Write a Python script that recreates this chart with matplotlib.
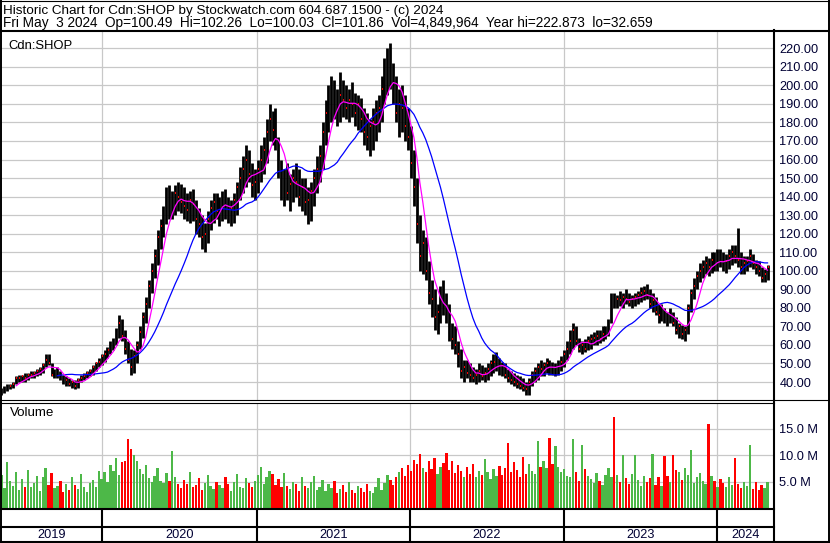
import numpy as np
import pandas as pd
import matplotlib
matplotlib.use("Agg")
import matplotlib.pyplot as plt
from matplotlib.ticker import FixedLocator, FuncFormatter

plt.rcParams['font.family'] = ['Liberation Sans', 'DejaVu Sans']

# ---------------- data (weekly bars, Cdn:SHOP) ----------------
week_start = "2019-05-06"
n_weeks = 261

low = [33, 34, 35, 36, 37, 39, 40, 40, 40, 41, 42, 42, 43, 44, 45, 48, 49, 43, 42, 42,
       41, 39, 38, 38, 37, 36, 37, 40, 41, 42, 43, 44, 46, 48, 49, 51, 53, 55, 57, 60,
       64, 62, 55, 50, 44, 45, 50, 58, 64, 72, 80, 88, 96, 103, 112, 118, 125, 128, 128, 130,
       132, 131, 128, 127, 126, 127, 120, 118, 112, 110, 115, 122, 126, 128, 124, 127, 128, 126, 124, 126,
       130, 138, 142, 145, 148, 140, 138, 142, 148, 152, 158, 170, 168, 165, 150, 138, 135, 138, 132, 137,
       140, 135, 132, 130, 125, 127, 135, 142, 148, 155, 168, 175, 180, 182, 178, 180, 183, 182, 180, 183,
       178, 176, 175, 168, 165, 162, 165, 170, 175, 180, 190, 195, 198, 190, 180, 172, 175, 170, 165, 150,
       135, 115, 100, 98, 95, 82, 75, 68, 66, 72, 76, 72, 62, 58, 55, 48, 42, 40, 42, 40,
       40, 39, 40, 41, 40, 41, 43, 45, 46, 44, 43, 42, 40, 39, 38, 37, 36, 35, 33, 33,
       38, 40, 41, 43, 43, 45, 44, 44, 43, 44, 46, 48, 52, 55, 58, 60, 56, 55, 56, 57,
       58, 60, 60, 61, 62, 63, 65, 72, 80, 80, 81, 80, 82, 81, 80, 81, 82, 83, 84, 85,
       80, 78, 76, 72, 73, 72, 70, 72, 70, 66, 64, 63, 62, 66, 78, 85, 90, 94, 96, 98,
       97, 99, 100, 100, 102, 100, 99, 101, 103, 104, 102, 98, 98, 100, 102, 101, 98, 97, 94, 94,
       95]
high = [37, 38, 39, 39, 40, 43, 44, 44, 45, 45, 46, 46, 47, 48, 50, 55, 55, 50, 47, 48,
        46, 44, 43, 42, 41, 41, 42, 44, 45, 46, 47, 49, 51, 53, 55, 57, 59, 62, 64, 69,
        76, 74, 68, 62, 58, 57, 62, 70, 78, 86, 95, 104, 112, 122, 128, 135, 145, 146, 143, 146,
        148, 147, 145, 142, 143, 144, 138, 134, 130, 126, 132, 138, 142, 142, 140, 143, 144, 140, 138, 142,
        148, 156, 162, 168, 165, 158, 155, 160, 168, 172, 182, 190, 186, 188, 172, 160, 155, 158, 152, 155,
        158, 155, 150, 150, 145, 148, 155, 162, 168, 180, 192, 200, 205, 203, 198, 207, 203, 200, 198, 202,
        196, 195, 193, 188, 185, 182, 188, 192, 195, 205, 215, 220, 223, 212, 205, 198, 200, 195, 188, 178,
        165, 150, 130, 122, 118, 105, 95, 90, 82, 92, 95, 88, 82, 72, 70, 62, 58, 52, 52, 50,
        48, 47, 50, 49, 48, 50, 52, 55, 56, 53, 51, 50, 47, 46, 45, 44, 43, 42, 40, 42,
        46, 48, 50, 52, 51, 53, 52, 51, 50, 52, 54, 57, 62, 68, 72, 70, 64, 62, 63, 65,
        66, 67, 68, 68, 70, 70, 74, 88, 88, 87, 89, 88, 90, 88, 87, 88, 89, 91, 92, 93,
        90, 88, 86, 82, 82, 80, 78, 80, 78, 75, 72, 71, 70, 82, 90, 96, 100, 104, 106, 108,
        107, 110, 110, 112, 112, 110, 109, 112, 114, 114, 123, 110, 108, 108, 112, 109, 106, 105, 102, 101,
        103]
close = [35, 37, 37, 38, 39, 42, 42, 43, 42, 44, 44, 45, 46, 47, 49, 52, 50, 44, 45, 46,
         42, 40, 41, 39, 40, 38, 41, 42, 43, 45, 46, 48, 50, 51, 54, 55, 57, 60, 62, 67,
         72, 65, 58, 52, 48, 54, 60, 67, 75, 82, 92, 100, 108, 118, 124, 130, 140, 135, 138, 142,
         140, 137, 135, 133, 138, 136, 128, 125, 118, 120, 128, 134, 137, 132, 136, 139, 135, 130, 134, 138,
         145, 150, 155, 160, 152, 146, 148, 155, 160, 165, 175, 182, 176, 170, 155, 145, 150, 142, 147, 150,
         148, 140, 145, 137, 138, 143, 150, 155, 162, 175, 185, 190, 195, 190, 185, 195, 192, 188, 192, 190,
         185, 190, 182, 175, 172, 178, 180, 185, 188, 198, 208, 212, 205, 198, 185, 190, 188, 178, 172, 158,
         145, 125, 108, 115, 100, 88, 85, 75, 78, 88, 82, 78, 66, 63, 60, 55, 46, 48, 45, 44,
         42, 44, 46, 43, 45, 47, 50, 51, 52, 47, 46, 44, 42, 41, 40, 39, 38, 37, 36, 40,
         44, 46, 48, 47, 49, 50, 48, 46, 47, 50, 51, 55, 58, 62, 68, 62, 58, 60, 58, 62,
         63, 64, 65, 63, 66, 67, 70, 84, 83, 85, 84, 86, 85, 83, 85, 86, 87, 88, 89, 87,
         82, 84, 78, 76, 78, 75, 74, 77, 72, 68, 70, 66, 68, 80, 88, 92, 97, 100, 102, 104,
         102, 106, 104, 108, 106, 103, 105, 108, 110, 108, 106, 102, 104, 105, 108, 104, 102, 100, 96, 98,
         101.86]
volume_m = [6.2, 3.8, 8.8, 5.1, 4.2, 6.8, 3.5, 5.5, 4.0, 7.2,
            3.9, 4.8, 6.0, 3.2, 5.8, 7.5, 4.4, 6.6, 3.7, 4.1,
            5.2, 3.0, 4.6, 3.4, 5.9, 4.3, 3.6, 6.4, 4.0, 3.1,
            4.8, 5.3, 3.9, 7.0, 5.5, 6.8, 4.9, 8.2, 7.0, 9.5,
            6.3, 8.8, 9.0, 13.0, 11.2, 10.1, 9.0, 7.4, 6.5, 8.1,
            5.6, 4.9, 6.0, 7.5, 5.2, 4.8, 6.7, 5.1, 10.8, 5.9,
            4.5, 3.8, 5.3, 4.6, 6.9, 3.9, 4.4, 5.7, 3.5, 4.8,
            6.2, 4.1, 3.6, 5.0, 4.3, 3.7, 5.9, 4.5, 3.3, 4.9,
            6.4, 4.0, 3.8, 5.6, 4.7, 3.9, 5.2, 6.3, 7.8, 4.6,
            5.9, 7.1, 6.5, 4.4, 5.5, 3.9, 6.6, 4.1, 3.6, 5.0,
            4.5, 3.3, 5.8, 4.2, 3.7, 4.9, 6.1, 3.5, 4.0, 5.4,
            3.2, 4.6, 3.8, 5.1, 2.9, 3.6, 4.3, 3.1, 5.0, 3.4,
            2.8, 4.1, 3.7, 3.0, 4.5, 3.3, 2.9, 4.0, 5.6, 3.5,
            4.8, 6.2, 5.3, 4.4, 5.9, 6.8, 7.5, 6.0, 8.2, 7.1,
            9.1, 8.4, 10.2, 7.6, 6.8, 8.9, 7.3, 9.5, 6.5, 7.8,
            8.6, 10.4, 7.2, 9.0, 6.6, 8.1, 7.0, 5.8, 7.7, 6.4,
            8.3, 5.9, 7.1, 6.2, 9.3, 6.8, 5.5, 7.4, 6.0, 8.0,
            6.3, 7.6, 12.4, 6.9, 8.8, 7.2, 5.9, 9.7, 6.5, 8.4,
            7.0, 6.4, 12.7, 7.8, 9.0, 7.5, 13.2, 8.3, 11.7, 7.7,
            6.8, 7.4, 6.1, 5.8, 13.0, 6.9, 5.2, 11.9, 7.3, 6.0,
            5.5, 4.8, 6.6, 5.1, 4.4, 6.2, 7.5, 5.9, 17.2, 6.3,
            5.0, 10.1, 5.7, 4.6, 6.4, 10.1, 5.3, 4.1, 6.0, 4.9,
            5.6, 10.3, 4.4, 5.8, 4.2, 9.9, 6.1, 5.0, 10.1, 7.2,
            6.8, 5.4, 7.5, 6.2, 11.0, 4.8, 5.9, 6.6, 5.1, 4.5,
            15.9, 6.0, 5.2, 4.0, 5.5, 4.7, 3.9, 5.8, 4.3, 9.4,
            4.6, 3.8, 5.0, 4.2, 11.9, 3.6, 4.9, 3.4, 4.4, 3.7,
            4.85]

price_ticks = list(range(40, 230, 10))
volume_ticks = [5, 10, 15]
years = [2019, 2020, 2021, 2022, 2023, 2024]
ma_fast, ma_slow = 6, 20

header1 = "Historic Chart for Cdn:SHOP by Stockwatch.com 604.687.1500 - (c) 2024"
header2 = ("Fri May  3 2024  Op=100.49  Hi=102.26  Lo=100.03  Cl=101.86  "
           "Vol=4,849,964  Year hi=222.873  lo=32.659")

# ---------------- figure ----------------
W, H = 830, 543
fig = plt.figure(figsize=(W / 100, H / 100), dpi=100)


def rect(x0, y0, x1, y1):
    return [x0 / W, 1 - y1 / H, (x1 - x0) / W, (y1 - y0) / H]


dates = pd.date_range(week_start, periods=n_weeks, freq="7D")
x_left, x_right = pd.Timestamp("2019-05-05"), pd.Timestamp("2024-05-12")
year_bounds = [pd.Timestamp(f"{y}-01-01") for y in years[1:]]

ax = fig.add_axes(rect(1, 32, 773, 400))
axv = fig.add_axes(rect(1, 403, 773, 508), sharex=ax)
axy = fig.add_axes(rect(1, 510, 773, 541), sharex=ax)

grid_c = "#C8C8C8"
lab_c = "#000033"
LBL = 9.2
for a in (ax, axv, axy):
    for s in a.spines.values():
        s.set_visible(False)
    a.set_facecolor("white")

# price bars
cl = pd.Series(close, dtype=float)
ax.vlines(dates, low, high, color="black", lw=2.0, zorder=3)
ax.hlines(close, dates + pd.Timedelta(days=0.5), dates + pd.Timedelta(days=2.4),
          color="#FF0000", lw=1.4, zorder=4)
ax.plot(dates, cl.rolling(ma_slow).mean(), color="#0000FF", lw=0.9, zorder=5)
ax.plot(dates, cl.rolling(ma_fast).mean(), color="#FF00FF", lw=0.9, zorder=5)
ax.set_xlim(x_left, x_right)
ax.set_ylim(40 - 18 / 1.854, 220 + 16.3 / 1.854)
ax.yaxis.set_major_locator(FixedLocator(price_ticks))
ax.yaxis.set_major_formatter(FuncFormatter(lambda v, p: f"{v:.2f}"))
ax.set_xticks(year_bounds)
ax.grid(True, color=grid_c, lw=0.9, zorder=0)
ax.yaxis.tick_right()
ax.tick_params(axis="y", length=0, pad=4.5, labelsize=LBL, labelcolor=lab_c)
ax.tick_params(axis="x", length=0, labelbottom=False)
ax.text(0.009, 0.978, "Cdn:SHOP", transform=ax.transAxes, fontsize=9.4,
        color="black", va="top", ha="left")

# volume
vol_colors = ["#4DB848" if i == 0 or close[i] >= close[i - 1] else "#FF0000"
              for i in range(n_weeks)]
axv.bar(dates, volume_m, width=5.5, color=vol_colors, zorder=3, linewidth=0)
axv.set_ylim(0, (507.5 - 403) / 5.25)
axv.yaxis.set_major_locator(FixedLocator(volume_ticks))
axv.yaxis.set_major_formatter(FuncFormatter(lambda v, p: f"{v:.1f} M"))
axv.grid(True, color=grid_c, lw=0.9, zorder=0)
axv.yaxis.tick_right()
axv.tick_params(axis="y", length=0, pad=4.5, labelsize=LBL, labelcolor=lab_c)
axv.tick_params(axis="x", length=0, labelbottom=False)
axv.text(0.011, 0.965, "Volume", transform=axv.transAxes, fontsize=9.6,
         color="black", va="top", ha="left")

# year strip
axy.set_ylim(0, 1)
axy.set_yticks([])
axy.tick_params(axis="x", length=0, labelbottom=False)
for b in year_bounds:
    axy.axvline(b, color="black", lw=1.5)
edges = [x_left] + year_bounds + [x_right]
for y, a, b in zip(years, edges[:-1], edges[1:]):
    axy.text(a + (b - a) / 2, 0.19, str(y), ha="center", va="center",
             fontsize=LBL, color=lab_c, transform=axy.get_xaxis_transform())

# frame & header (pixel overlay)
ov = fig.add_axes([0, 0, 1, 1], zorder=10)
ov.set_xlim(0, W)
ov.set_ylim(H, 0)
ov.axis("off")
ov.patch.set_alpha(0)
k = "black"
ov.plot([0, W], [0.5, 0.5], color=k, lw=0.8)
ov.plot([0.9, 0.9], [0, H], color=k, lw=1.4)
ov.plot([829, 829], [0, H], color=k, lw=1.4)
ov.plot([0, W], [30.6, 30.6], color=k, lw=1.5)
ov.plot([0, W], [399.8, 399.8], color=k, lw=0.8)
ov.plot([0, 774], [402.6, 402.6], color=k, lw=0.8)
ov.plot([0, 774], [509.4, 509.4], color=k, lw=1.5)
ov.plot([0, 774], [526.7, 526.7], color=k, lw=1.5)
ov.plot([0, W], [542, 542], color=k, lw=1.5)
ov.plot([774.3, 774.3], [30, H], color=k, lw=1.5)
ov.text(2.5, 14.2, header1, fontsize=9.7, color="black", va="baseline", ha="left")
ov.text(2.5, 27.5, header2, fontsize=9.8, color="black", va="baseline", ha="left")

fig.savefig("out.png", dpi=100)
